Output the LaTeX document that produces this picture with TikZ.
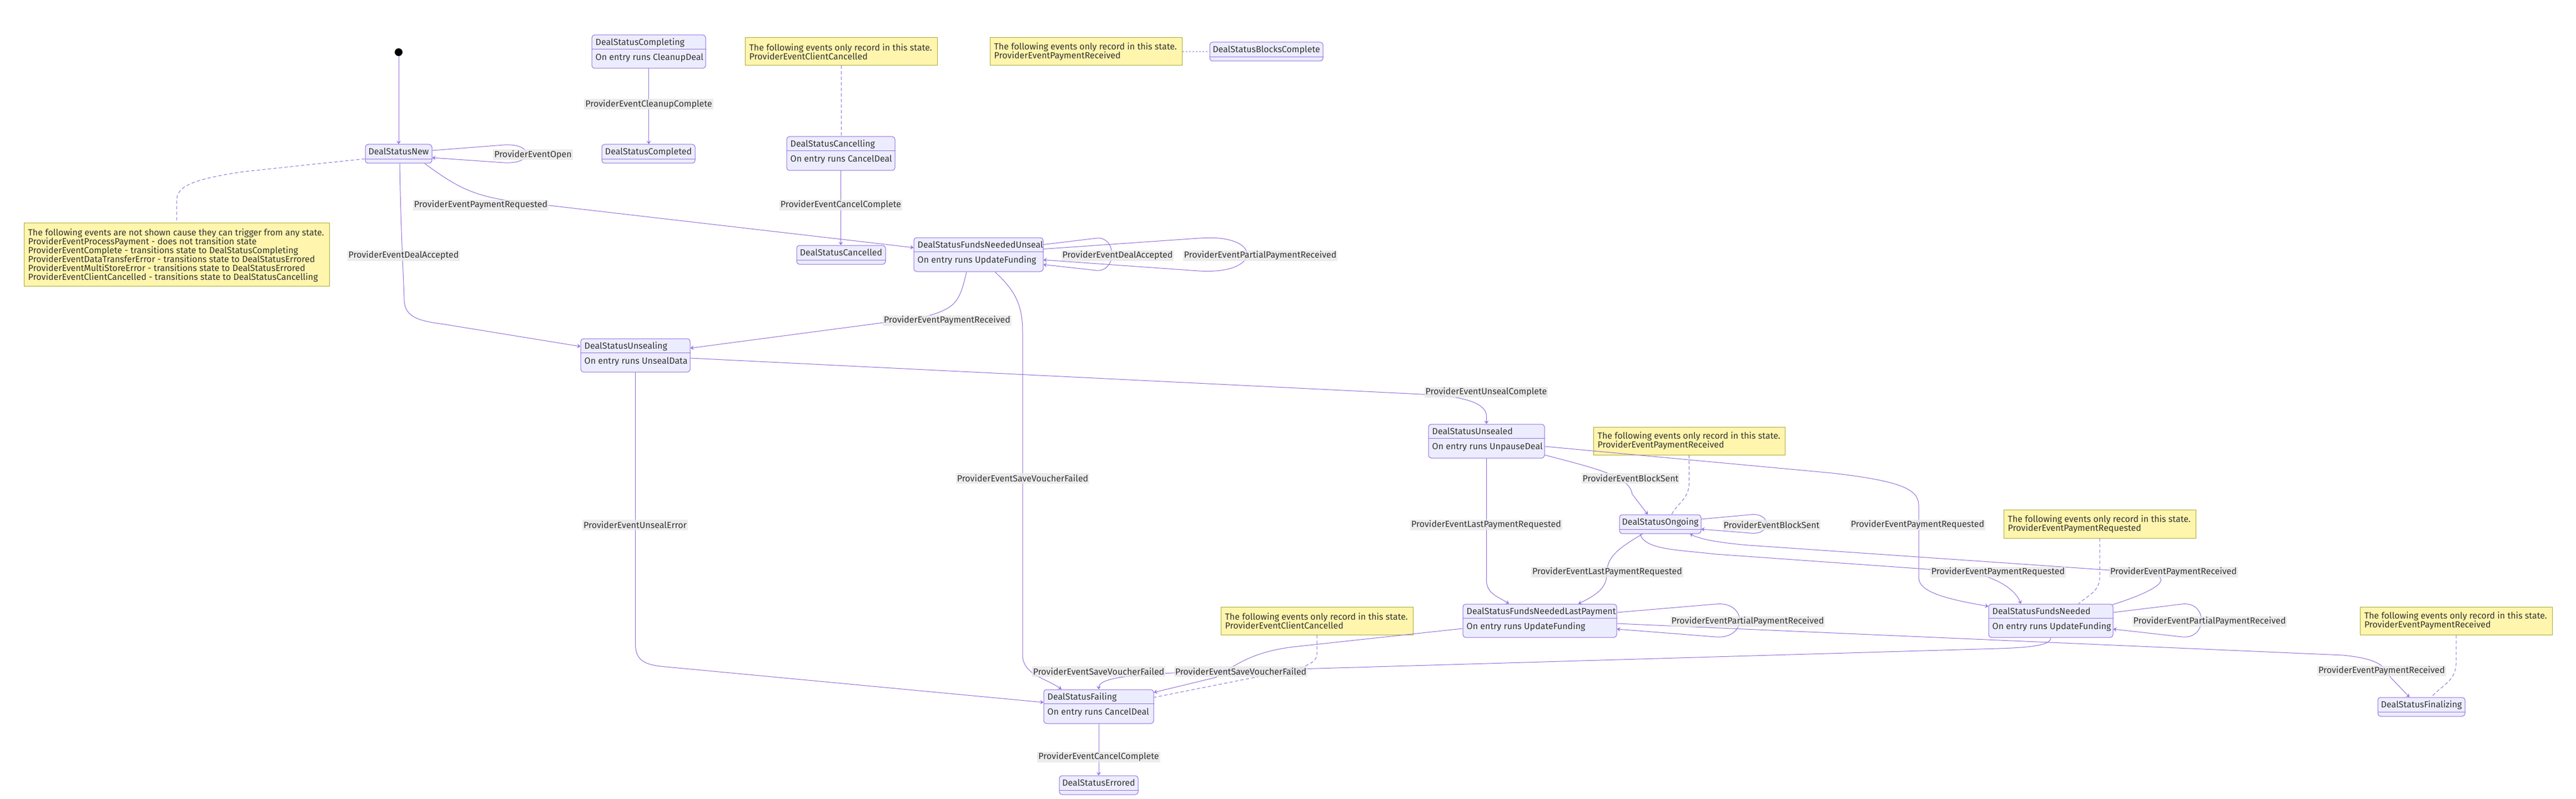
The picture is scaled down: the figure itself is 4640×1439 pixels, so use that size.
\documentclass[tikz,border=0pt]{standalone}
\usepackage{fontspec}
\setmainfont{Fira Sans}
\usetikzlibrary{arrows.meta,calc}
\definecolor{edgec}{HTML}{9370DB}
\definecolor{boxfill}{HTML}{ECECFF}
\definecolor{notefill}{HTML}{FFF5AD}
\definecolor{notedraw}{HTML}{AAAA33}
\definecolor{txt}{HTML}{333333}
\definecolor{lblbg}{HTML}{E8E8E8}
\tikzset{
 statebox/.style={draw=edgec, fill=boxfill, rounded corners=5pt, line width=1pt, inner sep=0pt},
 divider/.style={draw=edgec, line width=1.3pt},
 stext/.style={text=txt, font=\fontsize{16}{16}\selectfont, inner sep=0pt},
 notebox/.style={draw=notedraw, fill=notefill, line width=1pt, inner sep=0pt},
 notetext/.style={text=txt, font=\fontsize{16}{16}\selectfont, inner sep=0pt, align=left, anchor=west},
 lbl/.style={fill=lblbg, fill opacity=0.8, text opacity=1, text=txt, font=\fontsize{16}{16}\selectfont, inner xsep=2pt, inner ysep=0pt, minimum height=19pt},
 edge/.style={draw=edgec, line width=1pt, -{Stealth[length=6pt,width=8pt,inset=2.5pt]}},
 noteedge/.style={draw=edgec, line width=1pt, dash pattern=on 6pt off 4pt},
 dotedge/.style={draw=edgec!55, line width=2.5pt, dash pattern=on 3pt off 3pt},
 startdot/.style={circle, fill=black, minimum size=14pt, inner sep=0pt},
}
\newcommand\dstate[6]{%
 \node[statebox, minimum width=#4pt, minimum height=#5pt] (#1) at (#2,#3) {};
 \draw[divider] ([yshift=8pt]#1.south west) -- ([yshift=8pt]#1.south east);
 \node[stext, anchor=base] (#1-t) at ([yshift=-19pt]#1.north) {#6};
}
\newcommand\estate[7]{%
 \node[statebox, minimum width=#4pt, minimum height=#5pt] (#1) at (#2,#3) {};
 \draw[divider] ([yshift=-26pt]#1.north west) -- ([yshift=-26pt]#1.north east);
 \node[stext, anchor=base west] (#1-t) at ([xshift=7pt,yshift=-19pt]#1.north west) {#6};
 \node[stext, anchor=base west] (#1-e) at ([xshift=7pt,yshift=-46pt]#1.north west) {#7};
}
\begin{document}
\begin{tikzpicture}[x=1pt,y=-1pt]
\path[use as bounding box, fill=white] (0,0) rectangle (4640,1439);

% states
\node[startdot] (start) at (718,94) {};
\estate{Completing}{1168.5}{93}{205}{60}{DealStatusCompleting}{On entry runs CleanupDeal}
\dstate{Completed}{1168}{277}{168}{34}{DealStatusCompleted}
\dstate{New}{718}{277}{120}{34}{DealStatusNew}
\estate{Cancelling}{1514.5}{276.5}{195}{61}{DealStatusCancelling}{On entry runs CancelDeal}
\dstate{Cancelled}{1515}{459}{160}{34}{DealStatusCancelled}
\dstate{BlocksComplete}{2281}{93}{204}{34}{DealStatusBlocksComplete}
\estate{FNUnseal}{1762.5}{458.5}{233}{61}{DealStatusFundsNeededUnseal}{On entry runs UpdateFunding}
\estate{Unsealing}{1144.5}{640}{197}{60}{DealStatusUnsealing}{On entry runs UnsealData}
\estate{Unsealed}{2677.5}{794.5}{209}{61}{DealStatusUnsealed}{On entry runs UnpauseDeal}
\dstate{Ongoing}{2990.5}{944}{147}{34}{DealStatusOngoing}
\estate{LastPayment}{2773.5}{1118}{277}{60}{DealStatusFundsNeededLastPayment}{On entry runs UpdateFunding}
\estate{FundsNeeded}{3694}{1118}{224}{60}{DealStatusFundsNeeded}{On entry runs UpdateFunding}
\estate{Failing}{1979}{1272.5}{198}{61}{DealStatusFailing}{On entry runs CancelDeal}
\dstate{Errored}{1979}{1414}{142}{34}{DealStatusErrored}
\dstate{Finalizing}{4361.5}{1273}{157}{34}{DealStatusFinalizing}

% notes
\node[notebox, minimum width=550pt, minimum height=114pt] (n1) at (318,458) {};
\node[notetext] (n1t) at ([xshift=8pt,yshift=-2pt]n1.west) {The following events are not shown cause they can trigger from any state.\\ProviderEventProcessPayment - does not transition state\\ProviderEventComplete - transitions state to DealStatusCompleting\\ProviderEventDataTransferError - transitions state to DealStatusErrored\\ProviderEventMultiStoreError - transitions state to DealStatusErrored\\ProviderEventClientCancelled - transitions state to DealStatusCancelling};
\node[notebox, minimum width=346pt, minimum height=50pt] (n2) at (1515,93) {};
\node[notetext] (n2t) at ([xshift=8pt]n2.west) {The following events only record in this state.\\ProviderEventClientCancelled};
\node[notebox, minimum width=346pt, minimum height=50pt] (n3) at (1956,93) {};
\node[notetext] (n3t) at ([xshift=8pt]n3.west) {The following events only record in this state.\\ProviderEventPaymentReceived};
\node[notebox, minimum width=345pt, minimum height=50pt] (n4) at (3042.5,794) {};
\node[notetext] (n4t) at ([xshift=8pt]n4.west) {The following events only record in this state.\\ProviderEventPaymentReceived};
\node[notebox, minimum width=346pt, minimum height=51pt] (n5) at (3782,943.5) {};
\node[notetext] (n5t) at ([xshift=8pt]n5.west) {The following events only record in this state.\\ProviderEventPaymentRequested};
\node[notebox, minimum width=346pt, minimum height=50pt] (n6) at (4424,1118) {};
\node[notetext] (n6t) at ([xshift=8pt]n6.west) {The following events only record in this state.\\ProviderEventPaymentReceived};
\node[notebox, minimum width=346pt, minimum height=50pt] (n7) at (2372,1118) {};
\node[notetext] (n7t) at ([xshift=8pt]n7.west) {The following events only record in this state.\\ProviderEventClientCancelled};

% note links
\draw[noteedge] ([yshift=-9pt]New.west) -- (440,309) .. controls (330,325) and (318,340) .. (318,365) -- (n1.north);
\draw[noteedge] (n2.south) -- (n2.south |- Cancelling.north);
\draw[dotedge] (n3.east) -- (BlocksComplete.west);
\draw[noteedge] (n4.south) -- (3042.5,870) .. controls (3042.5,898) and (3020,908) .. ([xshift=20.5pt]Ongoing.north);
\draw[noteedge] (n5.south) -- (3782,1040) .. controls (3782,1066) and (3758,1074) .. ([xshift=50pt]FundsNeeded.north);
\draw[noteedge] (n6.south) -- (4424,1195) .. controls (4424,1228) and (4392,1238) .. ([xshift=18.5pt]Finalizing.north);
\draw[noteedge] (n7.south) -- (2372,1178) .. controls (2372,1200) and (2330,1206) .. (2280,1216) -- ([yshift=16.5pt]Failing.east);

% transitions
\draw[edge] (start) -- (New);
\draw[edge] (Completing.south) -- (Completing.south |- Completed.north);
\draw[edge] (Cancelling.south) -- (Cancelling.south |- Cancelled.north);
\draw[edge] (Failing) -- (Errored);
\draw[edge] ([yshift=6pt]New.east) -- (908,261) .. controls (962,258) and (962,296) .. (908,293) -- ([yshift=-7pt]New.east);
\draw[edge] ([xshift=47pt]New.south) .. controls (820,335) and (850,352) .. (920,362) -- ([yshift=12.5pt]FNUnseal.west);
\draw[edge] ([xshift=2pt]New.south) .. controls (722,420) and (727,500) .. (728,540) .. controls (729,572) and (755,578) .. (800,584) -- ([yshift=16pt]Unsealing.west);
\draw[edge] ([yshift=18pt]FNUnseal.east) -- (1975,429) .. controls (2012,425) and (2012,490) .. (1975,487) -- ([yshift=-18pt]FNUnseal.east);
\draw[edge] ([yshift=10pt]FNUnseal.east) -- (2160,429) .. controls (2275,420) and (2275,495) .. (2160,488) -- ([yshift=-9.5pt]FNUnseal.east);
\draw[edge] ([xshift=-21.5pt]FNUnseal.south) .. controls (1728,545) and (1722,556) .. (1660,572) -- ([yshift=13pt]Unsealing.east);
\draw[edge] ([xshift=29.5pt]FNUnseal.south) .. controls (1830,525) and (1842,550) .. (1842,600) -- (1842,1180) .. controls (1842,1215) and (1885,1222) .. ([xshift=-67pt]Failing.north);
\draw[edge] (Unsealing.south) -- (1144.5,1160) .. controls (1144.5,1192) and (1165,1198) .. (1200,1201) -- ([yshift=7.5pt]Failing.west);
\draw[edge] ([yshift=-5pt]Unsealing.east) -- (2580,711) .. controls (2650,716) and (2677.5,730) .. (2677.5,750) -- (Unsealed.north);
\draw[edge] ([yshift=-25pt]Unsealed.east) .. controls (2880,845) and (2935,858) .. (2940,890) -- ([xshift=-22.5pt]Ongoing.north);
\draw[edge] (Unsealed.south) -- (2677.5,1045) .. controls (2677.5,1070) and (2700,1075) .. ([xshift=-55.5pt]LastPayment.north);
\draw[edge] ([yshift=-9.5pt]Unsealed.east) -- (3300,852) .. controls (3420,866) and (3456,880) .. (3456,910) -- (3456,1040) .. controls (3456,1065) and (3500,1078) .. ([yshift=26pt]FundsNeeded.west);
\draw[edge] ([yshift=9pt]Ongoing.east) -- (3152,927) .. controls (3192,922) and (3192,965) .. (3152,960) -- ([yshift=-9pt]Ongoing.east);
\draw[edge] ([xshift=-31.5pt]Ongoing.south) .. controls (2910,990) and (2894,1005) .. (2894,1035) .. controls (2894,1062) and (2868,1075) .. ([xshift=69.5pt]LastPayment.north);
\draw[edge] ([xshift=-36.5pt]Ongoing.south) .. controls (2962,990) and (3020,990) .. (3090,998) -- (3540,1030) .. controls (3590,1036) and (3630,1060) .. ([xshift=-54pt]FundsNeeded.north);
\draw[edge] ([xshift=111pt,yshift=29pt]FundsNeeded.center) .. controls (3885,1064) and (3925,1038) .. (3860,1031) -- (3150,982) .. controls (3090,977) and (3060,970) .. ([xshift=53.5pt]Ongoing.south);
\draw[edge] ([yshift=15pt]LastPayment.east) -- (3090,1088) .. controls (3148,1082) and (3148,1152) .. (3090,1147) -- ([yshift=-15pt]LastPayment.east);
\draw[edge] ([yshift=15pt]FundsNeeded.east) -- (3930,1088) .. controls (3977,1082) and (3977,1152) .. (3930,1147) -- ([yshift=-15pt]FundsNeeded.east);
\draw[edge] ([yshift=-5pt]LastPayment.east) -- (4220,1180) .. controls (4280,1186) and (4296,1198) .. (4306,1220) -- ([xshift=-21.5pt]Finalizing.north);
\draw[edge] ([yshift=-14pt]LastPayment.west) -- (2330,1165) .. controls (2255,1174) and (2225,1198) .. (2190,1220) -- ([yshift=25.5pt]Failing.east);
\draw[edge] (FundsNeeded.south) .. controls (3694,1162) and (3660,1166) .. (3600,1168) -- (2200,1209) .. controls (2040,1213) and (1979,1220) .. (Failing.north);

% labels
\node[lbl] (lOpen) at (960,279) {ProviderEventOpen};
\node[lbl] (lCleanup) at (1168.5,188) {ProviderEventCleanupComplete};
\node[lbl] (lCancelC1) at (1514.5,369) {ProviderEventCancelComplete};
\node[lbl] (lPayReq1) at (866,369) {ProviderEventPaymentRequested};
\node[lbl] (lDealAcc1) at (727,460) {ProviderEventDealAccepted};
\node[lbl] (lDealAcc2) at (2013,460) {ProviderEventDealAccepted};
\node[lbl] (lPartial1) at (2270,460) {ProviderEventPartialPaymentReceived};
\node[lbl] (lPayRec1) at (1706,577) {ProviderEventPaymentReceived};
\node[lbl] (lUnsealC) at (2677,706) {ProviderEventUnsealComplete};
\node[lbl] (lUnsealE) at (1144,945) {ProviderEventUnsealError};
\node[lbl] (lSave1) at (1842,861) {ProviderEventSaveVoucherFailed};
\node[lbl] (lBlock1) at (2937,861) {ProviderEventBlockSent};
\node[lbl] (lLast1) at (2677,945) {ProviderEventLastPaymentRequested};
\node[lbl] (lPayReq2) at (3454,945) {ProviderEventPaymentRequested};
\node[lbl] (lBlock2) at (3191,945) {ProviderEventBlockSent};
\node[lbl] (lLast2) at (2895,1030) {ProviderEventLastPaymentRequested};
\node[lbl] (lPayReq3) at (3599,1030) {ProviderEventPaymentRequested};
\node[lbl] (lPayRec2) at (3915,1030) {ProviderEventPaymentReceived};
\node[lbl] (lPartial2) at (3148,1119) {ProviderEventPartialPaymentReceived};
\node[lbl] (lPartial3) at (3980,1119) {ProviderEventPartialPaymentReceived};
\node[lbl] (lSave2) at (1979,1209) {ProviderEventSaveVoucherFailed};
\node[lbl] (lSave3) at (2235,1209) {ProviderEventSaveVoucherFailed};
\node[lbl] (lPayRec3) at (4290,1208) {ProviderEventPaymentReceived};
\node[lbl] (lCancelC2) at (1979,1363) {ProviderEventCancelComplete};
\end{tikzpicture}
\end{document}
